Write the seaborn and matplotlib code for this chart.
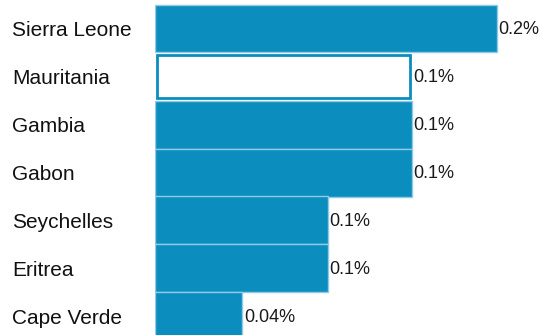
import matplotlib
matplotlib.use("Agg")
import matplotlib.pyplot as plt
import matplotlib.transforms as mtransforms
import seaborn as sns
import pandas as pd

# =========================
# DATA
# =========================
countries = ["Sierra Leone", "Mauritania", "Gambia", "Gabon", "Seychelles", "Eritrea", "Cape Verde"]
shares = [0.172, 0.129, 0.129, 0.129, 0.087, 0.087, 0.044]
value_labels = ["0.2%", "0.1%", "0.1%", "0.1%", "0.1%", "0.1%", "0.04%"]
highlight = "Mauritania"

blue = "#0b8dbe"

df = pd.DataFrame({"country": countries, "share": shares})

sns.set_style("white")
plt.rcParams["font.family"] = ["Liberation Sans", "DejaVu Sans"]

fig = plt.figure(figsize=(5.43, 3.35), dpi=100)
ax = fig.add_axes([155 / 543, 0, 388 / 543, 1])

sns.barplot(data=df, x="share", y="country", orient="h", color=blue,
            width=1.0, edgecolor="#8fcbe6", linewidth=1, saturation=1, ax=ax)

# highlighted country: white bar with blue border
for patch, c in zip(ax.patches, countries):
    if c == highlight:
        patch.set_facecolor("white")
        patch.set_edgecolor(blue)
        patch.set_linewidth(2)
        # inset the border a bit
        patch.set_y(patch.get_y() + 0.05)
        patch.set_height(patch.get_height() - 0.1)
        patch.set_x(patch.get_x() + 0.0009)
        patch.set_width(patch.get_width() - 0.0018)

ax.set_xlim(0, 388 / 342 * shares[0])
ax.set_ylim((335 - 28.5) / 48, -28.5 / 48)

# value labels
for i, (v, lab) in enumerate(zip(shares, value_labels)):
    ax.text(v + 0.0008, i + 0.03, lab, va="center", ha="left", fontsize=13, color="#1a1a1a")

# country labels at the left edge of figure
trans = mtransforms.blended_transform_factory(fig.transFigure, ax.transData)
for i, c in enumerate(countries):
    ax.text(12 / 543, i + 0.04, c, transform=trans, va="center", ha="left",
            fontsize=15, color="#111111")

ax.set_yticks([])
ax.set_xticks([])
ax.set_xlabel("")
ax.set_ylabel("")
sns.despine(ax=ax, left=True, bottom=True)

fig.savefig("out.png", dpi=100)
